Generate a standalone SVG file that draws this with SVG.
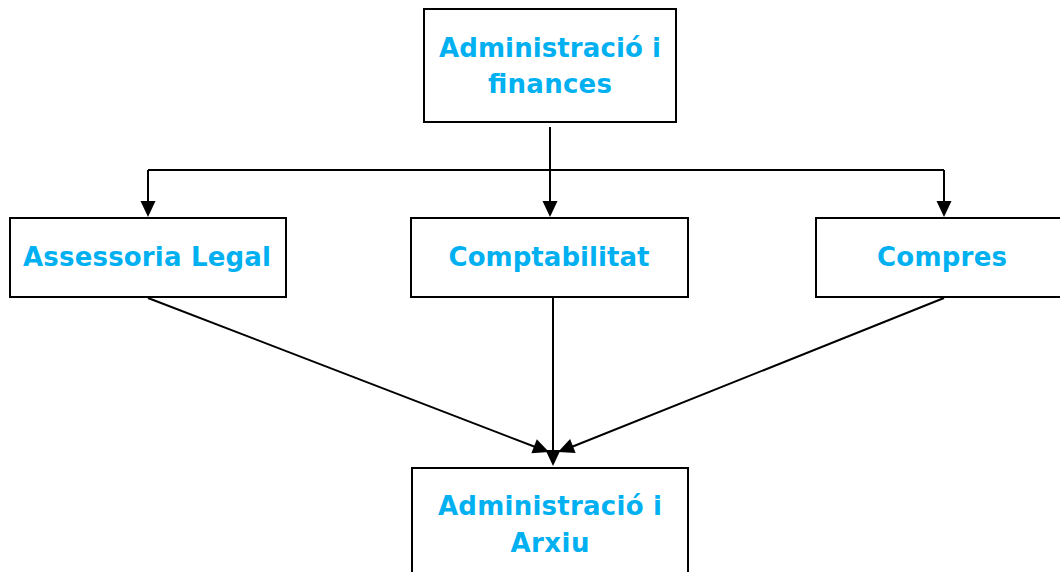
<svg xmlns="http://www.w3.org/2000/svg" width="1060" height="572" viewBox="0 0 1060 572">
<defs>
<style>
.box{fill:#fff;stroke:#000;stroke-width:2}
.lbl{font-family:"DejaVu Sans","Liberation Sans",sans-serif;font-weight:bold;font-size:26px;fill:#00B0F0;text-anchor:middle}
.ln{stroke:#000;stroke-width:2;fill:none}
.ah{fill:#000;stroke:none}
</style>
</defs>
<rect width="1060" height="572" fill="#fff"/>
<g id="connectors">
<line class="ln" x1="550" y1="127" x2="550" y2="170"/>
<line class="ln" x1="148" y1="170" x2="944" y2="170"/>
<line class="ln" x1="148" y1="170" x2="148" y2="205"/>
<polygon class="ah" points="148,217 140.5,201 155.5,201"/>
<line class="ln" x1="550" y1="170" x2="550" y2="205"/>
<polygon class="ah" points="550,217 542.5,201 557.5,201"/>
<line class="ln" x1="944" y1="170" x2="944" y2="205"/>
<polygon class="ah" points="944,217 936.5,201 951.5,201"/>
<line class="ln" x1="148" y1="298" x2="538" y2="448"/>
<polygon class="ah" points="549,452 536.8,439.3 531.4,453.3"/>
<line class="ln" x1="553" y1="298" x2="553" y2="454"/>
<polygon class="ah" points="553,466 545.5,450 560.5,450"/>
<line class="ln" x1="944" y1="298" x2="569" y2="448"/>
<polygon class="ah" points="558,452 570.1,439.1 575.6,453.0"/>
</g>
<g id="n-admin-finances">
<rect class="box" x="424" y="9" width="252" height="113"/>
<text class="lbl" x="550" y="57" textLength="222" lengthAdjust="spacing">Administració i</text>
<text class="lbl" x="550" y="93" textLength="124" lengthAdjust="spacing">finances</text>
</g>
<g id="n-assessoria">
<rect class="box" x="10" y="218" width="276" height="79"/>
<text class="lbl" x="147" y="266" textLength="248" lengthAdjust="spacing">Assessoria Legal</text>
</g>
<g id="n-comptabilitat">
<rect class="box" x="411" y="218" width="277" height="79"/>
<text class="lbl" x="549" y="266" textLength="201" lengthAdjust="spacing">Comptabilitat</text>
</g>
<g id="n-compres">
<rect class="box" x="816" y="218" width="260" height="79"/>
<text class="lbl" x="942" y="266" textLength="130" lengthAdjust="spacing">Compres</text>
</g>
<g id="n-admin-arxiu">
<rect class="box" x="412" y="468" width="276" height="120"/>
<text class="lbl" x="550" y="515" textLength="224" lengthAdjust="spacing">Administració i</text>
<text class="lbl" x="550" y="552" textLength="79" lengthAdjust="spacing">Arxiu</text>
</g>
</svg>
